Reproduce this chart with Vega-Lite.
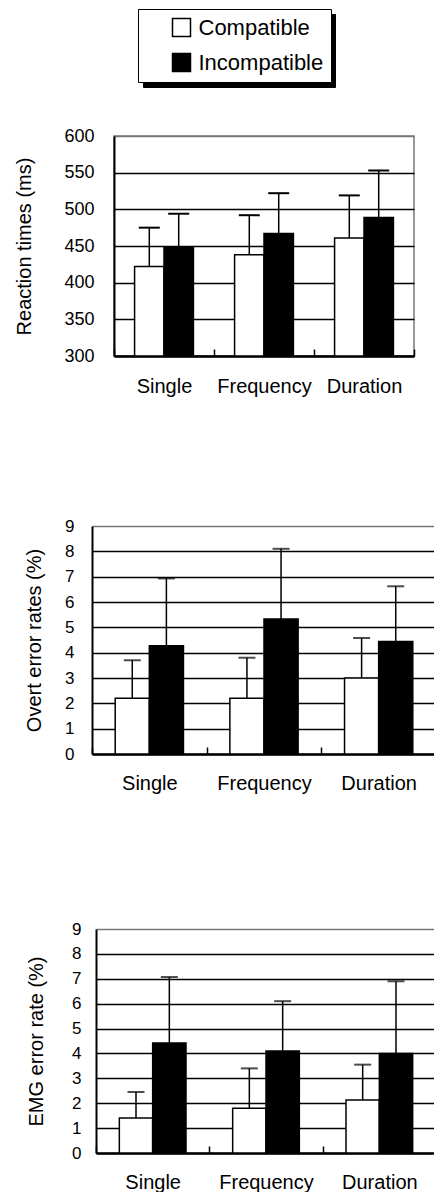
{
  "$schema": "https://vega.github.io/schema/vega-lite/v6.json",
  "padding": {"left": 0, "top": 8, "right": 0, "bottom": 0},
  "background": "white",
  "spacing": 0,
  "config": {
    "font": "Liberation Sans",
    "view": {"stroke": null},
    "axis": {
      "labelColor": "black", "titleColor": "black",
      "labelFont": "Liberation Sans", "titleFont": "Liberation Sans",
      "titleFontWeight": "normal", "domainColor": "black", "tickColor": "black",
      "gridColor": "black", "gridOpacity": 1, "labelOverlap": false
    },
    "axisY": {"grid": true, "gridWidth": 1.5, "ticks": false, "domainWidth": 2, "labelFontSize": 17, "titleFontSize": 20},
    "axisX": {"title": null, "labelAngle": 0, "tickBand": "extent", "tickSize": -7, "tickWidth": 1.5, "labelPadding": 26, "labelFontSize": 20, "domainWidth": 2.5, "grid": false}
  },
  "datasets": {
    "rt": [
      {"condition": "Single", "congruency": "Compatible", "mean": 422, "upper": 475},
      {"condition": "Single", "congruency": "Incompatible", "mean": 448, "upper": 494},
      {"condition": "Frequency", "congruency": "Compatible", "mean": 438, "upper": 492},
      {"condition": "Frequency", "congruency": "Incompatible", "mean": 467, "upper": 522},
      {"condition": "Duration", "congruency": "Compatible", "mean": 461, "upper": 519},
      {"condition": "Duration", "congruency": "Incompatible", "mean": 489, "upper": 553}
    ],
    "overt": [
      {"condition": "Single", "congruency": "Compatible", "mean": 2.2, "upper": 3.7},
      {"condition": "Single", "congruency": "Incompatible", "mean": 4.27, "upper": 6.93},
      {"condition": "Frequency", "congruency": "Compatible", "mean": 2.2, "upper": 3.8},
      {"condition": "Frequency", "congruency": "Incompatible", "mean": 5.33, "upper": 8.1},
      {"condition": "Duration", "congruency": "Compatible", "mean": 3.0, "upper": 4.58},
      {"condition": "Duration", "congruency": "Incompatible", "mean": 4.44, "upper": 6.62}
    ],
    "emg": [
      {"condition": "Single", "congruency": "Compatible", "mean": 1.41, "upper": 2.45},
      {"condition": "Single", "congruency": "Incompatible", "mean": 4.42, "upper": 7.07},
      {"condition": "Frequency", "congruency": "Compatible", "mean": 1.8, "upper": 3.4},
      {"condition": "Frequency", "congruency": "Incompatible", "mean": 4.1, "upper": 6.1},
      {"condition": "Duration", "congruency": "Compatible", "mean": 2.13, "upper": 3.55},
      {"condition": "Duration", "congruency": "Incompatible", "mean": 4.0, "upper": 6.9}
    ]
  },
  "resolve": {"scale": {"x": "independent", "y": "independent", "xOffset": "independent"}},
  "vconcat": [
    {
      "spacing": 0,
      "resolve": {"scale": {"x": "independent", "y": "independent", "xOffset": "independent"}},
      "hconcat": [
        {"width": 14, "height": 381, "data": {"values": []}, "mark": "point"},
        {
          "width": 300, "height": 220,
          "view": {"stroke": "#777777", "strokeWidth": 1.5},
          "data": {"name": "rt"},
          "encoding": {
            "x": {"field": "condition", "type": "nominal", "sort": ["Single", "Frequency", "Duration"],
              "scale": {"paddingInner": 0, "paddingOuter": 0}, "axis": {"labelPadding": 27}},
            "xOffset": {"field": "congruency", "type": "nominal", "sort": ["Compatible", "Incompatible"],
              "scale": {"paddingInner": 0, "paddingOuter": 0.7}}
          },
          "layer": [
            {
              "mark": {"type": "bar", "stroke": "black", "strokeWidth": 1.5},
              "encoding": {
                "y": {"field": "mean", "type": "quantitative",
                  "scale": {"domain": [300, 600], "nice": false, "zero": false},
                  "axis": {"title": "Reaction times (ms)", "values": [300, 350, 400, 450, 500, 550, 600],
                    "gridColor": {"condition": {"test": "datum.value == 600", "value": "#777777"}, "value": "black"},
                    "labelPadding": 20, "labelFontSize": 18, "titlePadding": 29}},
                "y2": {"datum": 300},
                "fill": {"field": "congruency", "type": "nominal",
                  "scale": {"domain": ["Compatible", "Incompatible"], "range": ["white", "black"]},
                  "legend": {"orient": "none", "legendX": 138, "legendY": -127, "title": null, "symbolType": "square", "symbolSize": 324,
                    "symbolStrokeColor": "black", "symbolStrokeWidth": 1.5, "symbolOffset": 25, "labelFontSize": 22, "labelFont": "Liberation Sans",
                    "labelColor": "black", "labelOffset": 6, "rowPadding": 11, "padding": 7.5, "strokeColor": "black", "fillColor": "white", "zindex": 1}}
              }
            },
            {
              "mark": {"type": "rule", "color": "black", "strokeWidth": 1.5},
              "encoding": {
                "y": {"field": "mean", "type": "quantitative",
                  "scale": {"domain": [300, 600], "nice": false, "zero": false},
                  "axis": {"title": "Reaction times (ms)", "values": [300, 350, 400, 450, 500, 550, 600],
                    "gridColor": {"condition": {"test": "datum.value == 600", "value": "#777777"}, "value": "black"},
                    "labelPadding": 20, "labelFontSize": 18, "titlePadding": 29}},
                "y2": {"field": "upper"}
              }
            },
            {
              "mark": {"type": "tick", "color": "black", "thickness": 2, "size": 21},
              "encoding": {
                "y": {"field": "upper", "type": "quantitative",
                  "scale": {"domain": [300, 600], "nice": false, "zero": false},
                  "axis": {"title": "Reaction times (ms)", "values": [300, 350, 400, 450, 500, 550, 600],
                    "gridColor": {"condition": {"test": "datum.value == 600", "value": "#777777"}, "value": "black"},
                    "labelPadding": 20, "labelFontSize": 18, "titlePadding": 29}},
                "opacity": {"field": "congruency", "type": "nominal",
                  "scale": {"domain": ["Incompatible", "Compatible"], "range": [1, 1]},
                  "legend": {"orient": "none", "legendX": 143, "legendY": -122, "title": null, "symbolType": "square", "symbolSize": 529,
                    "symbolOpacity": 0, "symbolStrokeWidth": 0, "symbolOffset": 154, "labelFontSize": 22,
                    "labelOffset": 0, "rowPadding": 12, "padding": 7.5, "strokeColor": "black", "fillColor": "black",
                    "labelExpr": "''", "zindex": 0}}
              }
            }
          ]
        }
      ]
    },
    {
      "spacing": 0,
      "resolve": {"scale": {"x": "independent", "y": "independent", "xOffset": "independent"}},
      "hconcat": [
        {"width": 23.5, "height": 394, "data": {"values": []}, "mark": "point"},
        {
          "width": 344, "height": 228,
          "data": {"name": "overt"},
          "encoding": {
            "x": {"field": "condition", "type": "nominal", "sort": ["Single", "Frequency", "Duration"],
              "scale": {"paddingInner": 0, "paddingOuter": 0}},
            "xOffset": {"field": "congruency", "type": "nominal", "sort": ["Compatible", "Incompatible"],
              "scale": {"paddingInner": 0, "paddingOuter": 0.68}}
          },
          "layer": [
            {
              "mark": {"type": "bar", "stroke": "black", "strokeWidth": 1.5},
              "encoding": {
                "y": {"field": "mean", "type": "quantitative",
                  "scale": {"domain": [0, 9], "nice": false},
                  "axis": {"title": "Overt error rates (%)", "values": [0, 1, 2, 3, 4, 5, 6, 7, 8, 9],
                    "gridColor": {"condition": {"test": "datum.value == 9", "value": "#777777"}, "value": "black"},
                    "labelPadding": 18, "titlePadding": 20}},
                "fill": {"field": "congruency", "type": "nominal",
                  "scale": {"domain": ["Compatible", "Incompatible"], "range": ["white", "black"]},
                  "legend": {"orient": "none", "legendX": 138, "legendY": -127, "title": null, "symbolType": "square", "symbolSize": 324,
                    "symbolStrokeColor": "black", "symbolStrokeWidth": 1.5, "symbolOffset": 25, "labelFontSize": 22, "labelFont": "Liberation Sans",
                    "labelColor": "black", "labelOffset": 6, "rowPadding": 11, "padding": 7.5, "strokeColor": "black", "fillColor": "white", "zindex": 1}}
              }
            },
            {
              "mark": {"type": "rule", "color": "black", "strokeWidth": 1.5},
              "encoding": {
                "y": {"field": "mean", "type": "quantitative",
                  "scale": {"domain": [0, 9], "nice": false},
                  "axis": {"title": "Overt error rates (%)", "values": [0, 1, 2, 3, 4, 5, 6, 7, 8, 9],
                    "gridColor": {"condition": {"test": "datum.value == 9", "value": "#777777"}, "value": "black"},
                    "labelPadding": 18, "titlePadding": 20}},
                "y2": {"field": "upper"}}
            },
            {
              "mark": {"type": "tick", "color": "black", "thickness": 2, "size": 17},
              "encoding": {
                "y": {"field": "upper", "type": "quantitative",
                  "scale": {"domain": [0, 9], "nice": false},
                  "axis": {"title": "Overt error rates (%)", "values": [0, 1, 2, 3, 4, 5, 6, 7, 8, 9],
                    "gridColor": {"condition": {"test": "datum.value == 9", "value": "#777777"}, "value": "black"},
                    "labelPadding": 18, "titlePadding": 20}}}
            }
          ]
        }
      ]
    },
    {
      "spacing": 0,
      "resolve": {"scale": {"x": "independent", "y": "independent", "xOffset": "independent"}},
      "hconcat": [
        {"width": 25.5, "height": 10, "data": {"values": []}, "mark": "point"},
        {
          "width": 340, "height": 224,
          "data": {"name": "emg"},
          "encoding": {
            "x": {"field": "condition", "type": "nominal", "sort": ["Single", "Frequency", "Duration"],
              "scale": {"paddingInner": 0, "paddingOuter": 0}},
            "xOffset": {"field": "congruency", "type": "nominal", "sort": ["Compatible", "Incompatible"],
              "scale": {"paddingInner": 0, "paddingOuter": 0.7}}
          },
          "layer": [
            {
              "mark": {"type": "bar", "stroke": "black", "strokeWidth": 1.5},
              "encoding": {
                "y": {"field": "mean", "type": "quantitative",
                  "scale": {"domain": [0, 9], "nice": false},
                  "axis": {"title": "EMG error rate (%)", "values": [0, 1, 2, 3, 4, 5, 6, 7, 8, 9],
                    "gridColor": {"condition": {"test": "datum.value == 9", "value": "#777777"}, "value": "black"},
                    "labelPadding": 15, "titlePadding": 25}},
                "fill": {"field": "congruency", "type": "nominal",
                  "scale": {"domain": ["Compatible", "Incompatible"], "range": ["white", "black"]},
                  "legend": {"orient": "none", "legendX": 138, "legendY": -127, "title": null, "symbolType": "square", "symbolSize": 324,
                    "symbolStrokeColor": "black", "symbolStrokeWidth": 1.5, "symbolOffset": 25, "labelFontSize": 22, "labelFont": "Liberation Sans",
                    "labelColor": "black", "labelOffset": 6, "rowPadding": 11, "padding": 7.5, "strokeColor": "black", "fillColor": "white", "zindex": 1}}
              }
            },
            {
              "mark": {"type": "rule", "color": "black", "strokeWidth": 1.5},
              "encoding": {
                "y": {"field": "mean", "type": "quantitative",
                  "scale": {"domain": [0, 9], "nice": false},
                  "axis": {"title": "EMG error rate (%)", "values": [0, 1, 2, 3, 4, 5, 6, 7, 8, 9],
                    "gridColor": {"condition": {"test": "datum.value == 9", "value": "#777777"}, "value": "black"},
                    "labelPadding": 15, "titlePadding": 25}},
                "y2": {"field": "upper"}}
            },
            {
              "mark": {"type": "tick", "color": "black", "thickness": 2, "size": 17},
              "encoding": {
                "y": {"field": "upper", "type": "quantitative",
                  "scale": {"domain": [0, 9], "nice": false},
                  "axis": {"title": "EMG error rate (%)", "values": [0, 1, 2, 3, 4, 5, 6, 7, 8, 9],
                    "gridColor": {"condition": {"test": "datum.value == 9", "value": "#777777"}, "value": "black"},
                    "labelPadding": 15, "titlePadding": 25}}}
            }
          ]
        }
      ]
    }
  ]
}
